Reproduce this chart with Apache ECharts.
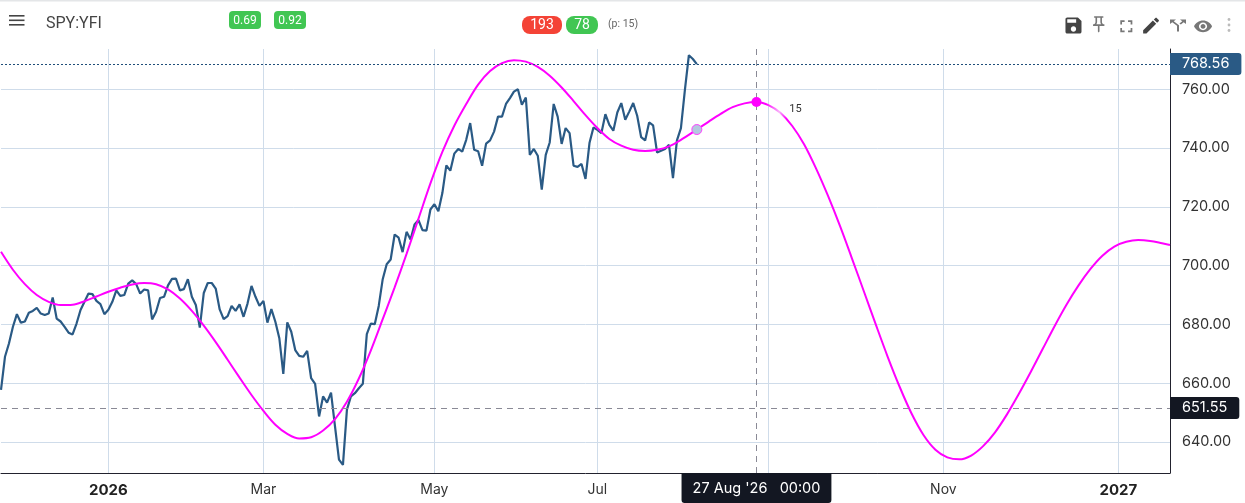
<!DOCTYPE html>
<html><head><meta charset="utf-8">
<style>html,body{margin:0;padding:0;background:#fff}#c{width:1245px;height:503px}</style>
<script src="https://cdn.jsdelivr.net/npm/echarts@6/dist/echarts.min.js"></script>
</head><body><div id="c"></div>
<script>
const symbolName = 'SPY:YFI';
const holidays = ['2025-11-27','2025-12-25','2026-01-01','2026-01-19','2026-02-16','2026-04-03','2026-05-25','2026-06-19','2026-07-03','2026-09-07','2026-11-26','2026-12-25','2027-01-01'];
const firstDay = '2025-11-21';
const barCount = 295;
const tickIndex = [27,66,109,150,193,237,281];
const tickLabels = ['2026','Mar','May','Jul','Sep','Nov','2027'];
const yTicks = [640,660,680,700,720,740,760];
const priceValues = [
657.7,669,673.5,679.2,683.5,680.6,681,684,684.6,685.6,683.7,683.2,683.7,689.2,682,681,679.2,677.2,676.6,680.3,
684.9,687.7,690.5,690.3,688,686.9,683.5,685,687.7,691.6,689.7,690,693.9,695,693.7,690.5,691.9,691.6,681.7,684.3,
689,689.4,693.3,695.5,695.6,691.6,692,695.4,689.4,686.6,678.9,690.7,694.1,694.1,692.2,685.1,681.8,682.8,686.3,684.6,
686.8,682.6,687.1,693.1,689.4,686.3,688,680.6,685.2,680.9,675.3,663.2,680.7,677.5,671.3,669.3,669,671,661.7,659.8,
648.7,655.5,653.4,656.8,645.3,634,632.2,651,655.5,656.6,658.3,659.8,676.7,680.3,680.1,686.3,695.4,700.5,702.1,710.6,
709.5,704.6,711.5,708.9,714,715.5,712.1,711.9,719.1,720.9,718.5,724.7,734.1,732.3,738.1,739.7,738.8,742.8,748.5,739.4,
738.9,734,741.5,742.6,745.6,750.7,750.7,755,757,759.2,760,754.7,757.2,737.7,739.7,737.4,725.9,737.7,741.9,755,
750.7,741.4,746.8,745.1,734,733.6,734.6,729.5,741.7,747,746.2,745.1,751.5,747.9,745.9,752.1,755.3,749.6,752.4,755.3,
751,743.7,742.6,748.7,747.7,738.5,739.1,739.7,741.1,729.8,742.6,746.8,759.8,771.6,770.3,768.56];
const cycleIndex = [0,3,6,9,12,15,18,21,24,27,30,33,36,39,42,45,48,51,54,57,60,63,66,69,72,75,78,81,84,87,90,93,96,99,102,105,108,111,114,117,120,123,126,129,132,135,138,141,144,147,150,153,156,159,162,165,168,171,175,178,181,184,187,190,193,196,199,202,205,208,211,214,217,220,223,226,229,232,235,238,241,244,247,250,253,256,259,262,265,268,271,274,277,280,283,286,289,292,294];
const cycleValues = [704.7,698.6,693.7,690,687.7,686.6,686.7,687.9,689.5,691.1,692.5,693.6,694.1,693.7,691.9,688.8,684.6,679.6,674,668,661.9,656,650.6,645.9,642.8,641.2,641.6,643.9,647.8,653.7,661.6,671.1,681.8,692.6,704,716,728,738.7,747.6,755,761.6,766.2,768.9,769.9,769.4,767.6,764.6,760.6,756,751.2,746.8,743.1,740.8,739.4,739,739.4,740.6,742.8,746.3,749,751.6,753.9,755.2,755.7,754.6,752,747.5,741.2,733,723.7,713.5,702.5,691.3,680,669,658.8,649.7,642.4,637.4,634.8,634.1,635.4,638.6,643.3,649.4,656.4,663.9,671.7,679.5,686.8,693.3,698.9,703.4,706.5,708.1,708.7,708.4,707.6,707];
const lastPrice = 768.56;
const crosshairPrice = 651.55;
const crosshairIndex = 190;
const crosshairLabel = "27 Aug '26   00:00";
const lastPriceIndex = 175;
const cycleLabel = '15';
const badgesGreen = ['0.69','0.92','78'];
const badgeRed = '193';
const periodText = '(p: 15)';

const categories = [];
for (let d = new Date(firstDay + 'T00:00:00Z'); categories.length < barCount; d = new Date(d.getTime() + 864e5)) {
  const s = d.toISOString().slice(0, 10), w = d.getUTCDay();
  if (w !== 0 && w !== 6 && !holidays.includes(s)) categories.push(s);
}
const axisFont = 'Inter, sans-serif', ui = 'Roboto, sans-serif';
const axisData = categories.map((s, i) => {
  const k = tickIndex.indexOf(i);
  return k >= 0 && /^\d/.test(tickLabels[k])
    ? {value:s, textStyle:{fontWeight:'bold', fontSize:15, color:'#222', fontFamily:axisFont}}
    : {value:s};
});
const cycleData = cycleIndex.map((x, i) => [x, cycleValues[i]]);
const valueAt = x => cycleValues[cycleIndex.indexOf(x)];

function badge(x, y, w, h, r, fill, text, fs) {
  return [
    {type:'rect', shape:{x, y, width:w, height:h, r}, style:{fill}},
    {type:'text', x:x+w/2, y:y+h/2+0.5, style:{text, fill:'#fff', font:fs+'px '+ui, align:'center', verticalAlign:'middle'}}
  ];
}
let iconCount = 0;
function icon(pathData, x, y, sx, sy, fill) {
  const name = 'toolIcon' + (iconCount++);
  echarts.graphic.registerShape(name, echarts.graphic.extendPath(pathData, {}));
  return {type:name, x, y, scaleX:sx, scaleY:sy, style:{fill}};
}
const icons = [
 icon('M17 3H5c-1.11 0-2 .9-2 2v14c0 1.1.89 2 2 2h14c1.1 0 2-.9 2-2V7l-4-4zm-5 16c-1.66 0-3-1.34-3-3s1.34-3 3-3 3 1.34 3 3-1.34 3-3 3zm3-10H5V5h10v4z',1062.8,14.8,0.89,0.89,'#444'),
 icon('M14 4v5c0 1.12.37 2.16 1 3H9c.65-.86 1-1.9 1-3V4h4m3-2H7c-.55 0-1 .45-1 1s.45 1 1 1h1v5c0 1.66-1.34 3-3 3v2h5.97v7l1 1 1-1v-7H19v-2c-1.66 0-3-1.34-3-3V4h1c.55 0 1-.45 1-1s-.45-1-1-1z',1089,14.6,0.81,0.81,'#777'),
 icon('M7 14H5v5h5v-2H7v-3zm-2-4h2V7h3V5H5v5zm12 7h-3v2h5v-5h-2v3zM14 5v2h3v3h2V5h-5z',1116,16,0.86,0.86,'#777'),
 icon('M3 17.25V21h3.75L17.81 9.94l-3.75-3.75L3 17.25zM20.71 7.04c.39-.39.39-1.02 0-1.41l-2.34-2.34a.996.996 0 0 0-1.41 0l-1.83 1.83 3.75 3.75 1.83-1.83z',1140.5,15,0.88,0.88,'#444'),
 icon('M14 4l2.29 2.29-2.88 2.88 1.42 1.42 2.88-2.88L20 10V4zm-4 0H4v6l2.29-2.29 4.71 4.7V20h2v-8.41l-5.29-5.3z',1166,16.5,1,0.75,'#777'),
 icon('M12 4.5C7 4.5 2.73 7.61 1 12c1.73 4.39 6 7.5 11 7.5s9.27-3.11 11-7.5c-1.73-4.39-6-7.5-11-7.5zM12 17c-2.76 0-5-2.24-5-5s2.24-5 5-5 5 2.24 5 5-2.24 5-5 5zm0-8c-1.66 0-3 1.34-3 3s1.34 3 3 3 3-1.34 3-3-1.34-3-3-3z',1193.2,17,0.82,0.78,'#777')
];
const graphic = [
  {type:'rect', shape:{x:0,y:0,width:1245,height:1.5}, style:{fill:'#e4e6e8'}},
  {type:'rect', shape:{x:9,y:15,width:15.5,height:1.6}, style:{fill:'#444'}},
  {type:'rect', shape:{x:9,y:19.5,width:15.5,height:1.6}, style:{fill:'#444'}},
  {type:'rect', shape:{x:9,y:24,width:15.5,height:1.6}, style:{fill:'#444'}},
  {type:'text', x:46, y:23.5, style:{text:symbolName, fill:'#444', font:'16px '+ui, verticalAlign:'middle'}},
  ...badge(229,11,32,18,4,'#41c653',badgesGreen[0],12),
  ...badge(274,11,32,18,4,'#41c653',badgesGreen[1],12),
  ...badge(522,16,40,18,8,'#f44336',badgeRed,14),
  ...badge(566,16,32,18,8,'#41c653',badgesGreen[2],14),
  {type:'text', x:608, y:24.5, style:{text:periodText, fill:'#666', font:'10.5px '+ui, verticalAlign:'middle'}},
  ...icons,
  {type:'circle', shape:{cx:1229,cy:19.5,r:1.4}, style:{fill:'#bbb'}},
  {type:'circle', shape:{cx:1229,cy:25,r:1.4}, style:{fill:'#bbb'}},
  {type:'circle', shape:{cx:1229,cy:30.5,r:1.4}, style:{fill:'#bbb'}}
];

const chart = echarts.init(document.getElementById('c'), null, {renderer:'canvas', width:1245, height:503});
chart.setOption({
  animation:false,
  backgroundColor:'#fff',
  graphic:{elements:graphic},
  grid:{left:1, right:75, top:49, bottom:30},
  xAxis:{
    type:'category', data:axisData, boundaryGap:false,
    axisLine:{show:true, lineStyle:{color:'#22222e', width:1}},
    axisTick:{show:false},
    splitLine:{show:true, interval:i => tickIndex.includes(i), lineStyle:{color:'#cfdcea', width:1}},
    axisLabel:{
      interval:i => tickIndex.includes(i), margin:10, hideOverlap:false,
      formatter:(v, i) => tickLabels[tickIndex.indexOf(i)],
      color:'#333', fontFamily:axisFont, fontSize:14
    }
  },
  yAxis:{
    type:'value', position:'right', min:629.46, max:773.7, scale:true,
    axisLine:{show:true, lineStyle:{color:'#22222e', width:1}},
    axisTick:{show:false, customValues:yTicks},
    splitLine:{show:true, lineStyle:{color:'#cfdcea', width:1}},
    axisLabel:{customValues:yTicks, margin:12, padding:[3,0,0,0], color:'#333', fontFamily:axisFont, fontSize:14.5, formatter:v => v.toFixed(2)}
  },
  series:[
    {
      name:'price', type:'line', data:priceValues, showSymbol:false, z:3,
      lineStyle:{color:'#2a5a85', width:2.2}, itemStyle:{color:'#2a5a85'},
      markLine:{
        silent:true, symbol:'none', animation:false,
        data:[
          {yAxis:lastPrice, lineStyle:{color:'#1f4e79', type:[2,2], width:1},
           label:{position:'end', distance:0, formatter:lastPrice.toFixed(2), color:'#fff', backgroundColor:'#2a5a85', padding:[4,12,3,12], borderRadius:[0,3,3,0], fontFamily:axisFont, fontSize:14.5}},
          {yAxis:crosshairPrice, lineStyle:{color:'#8a8a96', type:[6,5], width:1},
           label:{position:'end', distance:0, formatter:crosshairPrice.toFixed(2), color:'#fff', backgroundColor:'#131722', padding:[4,12,3,12], borderRadius:[0,3,3,0], fontFamily:axisFont, fontSize:14.5}},
          {xAxis:crosshairIndex, lineStyle:{color:'#8a8a96', type:[6,5], width:1},
           label:{position:'start', distance:0, formatter:crosshairLabel, color:'#fff', backgroundColor:'#131722', padding:[8,11,7,11], borderRadius:[0,0,3,3], fontFamily:axisFont, fontSize:14.5}}
        ]
      }
    },
    {
      name:'cycle', type:'line', data:cycleData, showSymbol:false, smooth:0.34, z:4,
      lineStyle:{width:2, color:new echarts.graphic.LinearGradient(0,0,1170,0,[
        {offset:0,color:'#ff00ff'},{offset:0.655,color:'#ff00ff'},{offset:0.666,color:'#f9b4f9'},{offset:0.672,color:'#ff00ff'},{offset:1,color:'#ff00ff'}],true)},
      itemStyle:{color:'#ff00ff'},
      markPoint:{
        silent:true, animation:false,
        data:[
          {coord:[lastPriceIndex, valueAt(lastPriceIndex)], symbol:'circle', symbolSize:10, itemStyle:{color:'#b4c8e0', borderColor:'#ff40ff', borderWidth:1}, label:{show:false}},
          {coord:[crosshairIndex, valueAt(crosshairIndex)], symbol:'circle', symbolSize:10, itemStyle:{color:'#ff00ff'},
           label:{show:true, position:'inside', offset:[39,7], formatter:cycleLabel, color:'#333', fontFamily:ui, fontSize:11}}
        ]
      }
    }
  ]
});
</script></body></html>
